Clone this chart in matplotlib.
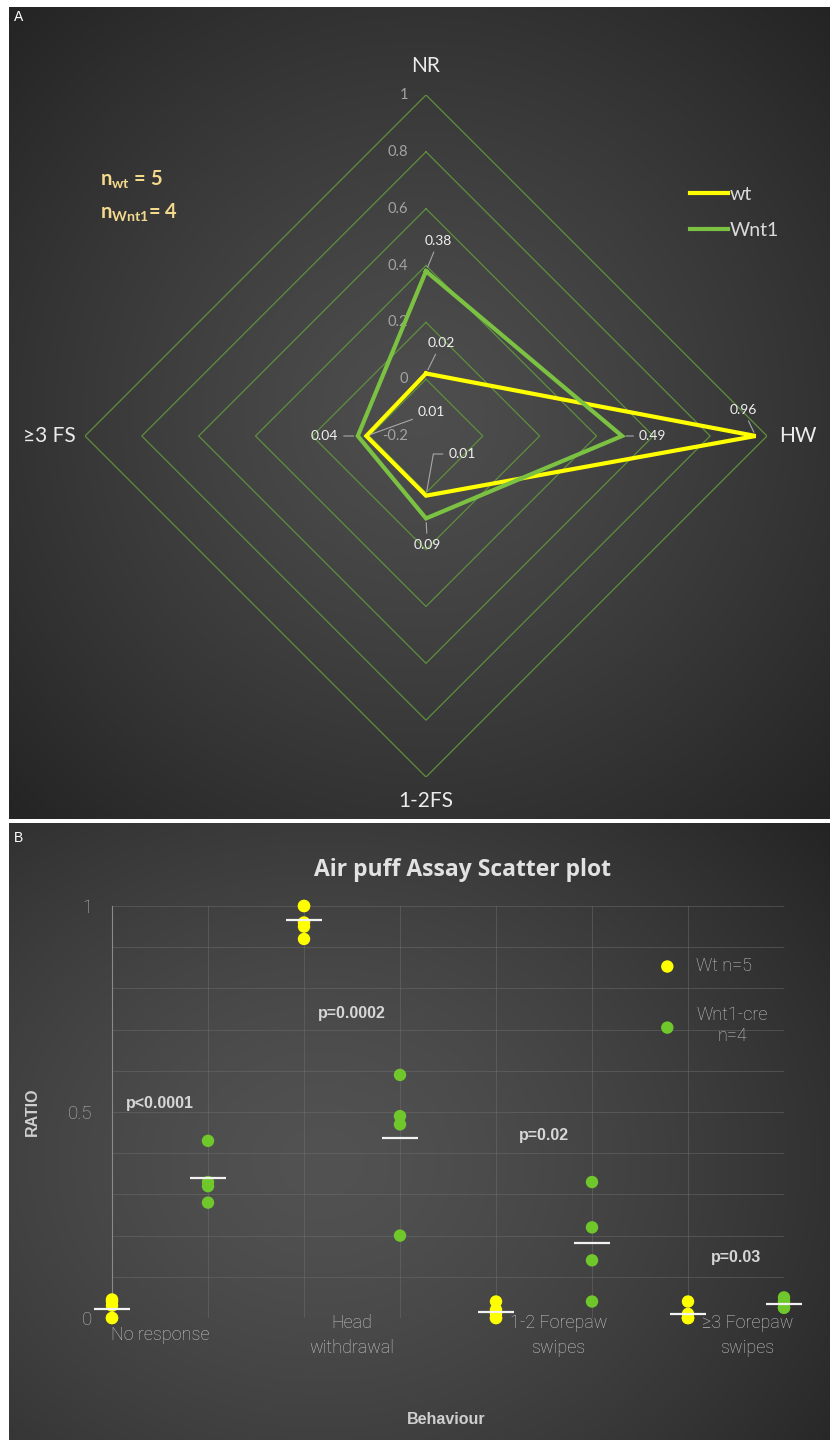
import numpy as np
import matplotlib
matplotlib.use('Agg')
import matplotlib.pyplot as plt

W, H = 831, 1441

# --- A: radar of mean response ratios ---
radar_axes = ['NR', 'HW', '1-2FS', '≥3 FS']
radar_wt = [0.02, 0.96, 0.01, 0.01]
radar_wnt1 = [0.38, 0.49, 0.09, 0.04]
ring_values = [-0.2, 0, 0.2, 0.4, 0.6, 0.8, 1.0]
ring_labels = ['-0.2', '0', '0.2', '0.4', '0.6', '0.8', '1']

# --- B: per-animal ratios ---
behaviours = ['No response', 'Head\nwithdrawal', '1-2 Forepaw\nswipes', '≥3 Forepaw\nswipes']
wt_points = [[0, 0, 0.03, 0.04, 0.045],
             [1.0, 1.0, 0.96, 0.95, 0.92],
             [0.04, 0.02, 0.01, 0, 0],
             [0.04, 0.01, 0, 0, 0]]
wnt1_points = [[0.43, 0.33, 0.32, 0.28],
               [0.59, 0.49, 0.47, 0.20],
               [0.33, 0.22, 0.14, 0.04],
               [0.05, 0.04, 0.025, 0.025]]
p_values = ['p<0.0001', 'p=0.0002', 'p=0.02', 'p=0.03']
p_heights = [0.52, 0.74, 0.442, 0.146]

YELLOW = '#ffff00'
GREEN_LINE = '#7cc242'
GREEN_DOT = '#6fc72b'

plt.rcParams['mathtext.fontset'] = 'custom'
plt.rcParams['mathtext.rm'] = 'Lato'
plt.rcParams['mathtext.bf'] = 'Lato:bold'
LATO = ['Lato', 'DejaVu Sans']
SANS = ['Liberation Sans', 'DejaVu Sans']
LIGHT = ['Roboto', 'Liberation Sans', 'DejaVu Sans']


def box(x0, y0, x1, y1):
    return [x0 / W, 1 - y1 / H, (x1 - x0) / W, (y1 - y0) / H]


def shade(ax, cx, cy, inner, outer, sx=1.0, sy=1.0, p=1.3):
    yy, xx = np.mgrid[0:1:300j, 0:1:300j]
    d = np.sqrt(((xx - cx) / sx) ** 2 + ((yy - cy) / sy) ** 2)
    d = np.clip(d / d.max(), 0, 1) ** p
    inner = np.array(inner) / 255.0
    outer = np.array(outer) / 255.0
    img = inner + (outer - inner) * d[..., None]
    ax.imshow(img, extent=[0, 1, 0, 1], origin='lower', aspect='auto',
              interpolation='bilinear')
    ax.axis('off')


fig = plt.figure(figsize=(W / 100, H / 100), dpi=100, facecolor='white')

bgA = fig.add_axes(box(9, 7, 830, 819))
shade(bgA, 0.5, 0.5, (78, 78, 78), (36, 36, 36), p=1.2)
bgB = fig.add_axes(box(9, 823, 830, 1440))
shade(bgB, 0.38, 0.45, (82, 82, 82), (36, 36, 36), sx=0.9, p=1.4)

fig.text(14 / W, 1 - 17 / H, 'A', color='white', fontsize=10, va='center', family=SANS)
fig.text(14 / W, 1 - 838 / H, 'B', color='white', fontsize=10, va='center', family=SANS)

# radar
ax = fig.add_axes(box(85, 95, 767, 777), projection='polar')
ax.patch.set_visible(False)
ax.set_theta_offset(np.pi / 2)
ax.set_theta_direction(-1)
ax.set_ylim(-0.2, 1.0)
ax.grid(False)
ax.spines['polar'].set_visible(False)
ax.set_xticks([])
ax.set_yticks([])

angles = np.arange(len(radar_axes)) * np.pi / 2
closed = np.append(angles, angles[0])
for r in ring_values[1:]:
    ax.plot(closed, [r] * len(closed), color='#5e8f3e', lw=0.9, zorder=1)
for r, lab in zip(ring_values, ring_labels):
    ax.annotate(lab, (0, r), xytext=(-13, 0), textcoords='offset points',
                ha='right', va='center', color='#a3a3a3', fontsize=10.5, family=LATO)

ax.plot(closed, radar_wt + radar_wt[:1], color=YELLOW, lw=3, zorder=4,
        solid_joinstyle='miter', label='wt')
ax.plot(closed, radar_wnt1 + radar_wnt1[:1], color=GREEN_LINE, lw=3, zorder=5,
        solid_joinstyle='miter', label='Wnt1')

label_offsets = {'wt': [(11, 22), (-9, 19), (26, 30), (47, 17)],
                 'wnt1': [(9, 22), (22, 0), (1, -19), (-24, 0)]}
for key, vals in (('wt', radar_wt), ('wnt1', radar_wnt1)):
    for i, (th, v) in enumerate(zip(angles, vals)):
        cs = 'angle,angleA=0,angleB=80,rad=0' if (key == 'wt' and i == 2) else 'arc3'
        ax.annotate(f'{v:.2f}', (th, v), xytext=label_offsets[key][i],
                    textcoords='offset points', ha='center', va='center',
                    color='#f0f0f0', fontsize=10, family=LATO, zorder=6,
                    arrowprops=dict(arrowstyle='-', color='#a8a8a8', lw=0.8,
                                    shrinkA=2, shrinkB=3, connectionstyle=cs))

axis_offsets = [(0, 21), (22, 0), (0, -17), (-26, 0)]
for th, name, off in zip(angles, radar_axes, axis_offsets):
    ax.annotate(name, (th, 1.0), xytext=off, textcoords='offset points',
                ha='center', va='center', color='#ececec', fontsize=15, family=LATO)

ax.legend(loc='upper left', bbox_to_anchor=(672 / W, 1 - 168 / H),
          bbox_transform=fig.transFigure, frameon=False, handlelength=2.0,
          handletextpad=0.05, labelspacing=1.0,
          labelcolor='#dadada', prop={'family': LATO, 'size': 14})

fig.text(100 / W, 1 - 180 / H, r'$\mathbf{n_{wt}}$ = 5', color='#f2d98c',
         fontsize=14.5, weight='bold', family=LATO, va='center')
fig.text(100 / W, 1 - 213 / H, r'$\mathbf{n_{Wnt1}}$= 4', color='#f2d98c',
         fontsize=14.5, weight='bold', family=LATO, va='center')

# scatter
axB = fig.add_axes(box(112, 906, 784, 1318))
axB.patch.set_visible(False)
axB.set_xlim(0, 7)
axB.set_ylim(0, 1)
for i in range(len(behaviours)):
    xw, xm = 2 * i, 2 * i + 1
    axB.scatter([xw] * len(wt_points[i]), wt_points[i], s=80, color=YELLOW,
                edgecolors='none', zorder=3, clip_on=False,
                label='Wt n=5' if i == 0 else None)
    axB.scatter([xm] * len(wnt1_points[i]), wnt1_points[i], s=80, color=GREEN_DOT,
                edgecolors='none', zorder=3, clip_on=False,
                label='Wnt1-cre\nn=4' if i == 0 else None)
    axB.hlines(np.mean(wt_points[i]), xw - 0.19, xw + 0.19, color='#f2f2f2',
               lw=1.6, zorder=4, clip_on=False)
    axB.hlines(np.mean(wnt1_points[i]), xm - 0.19, xm + 0.19, color='#f2f2f2',
               lw=1.6, zorder=4, clip_on=False)
    axB.text(2 * i + 0.5, p_heights[i], p_values[i], ha='center', va='center',
             color='#d6d6d6', fontsize=11.5, weight='bold', family=SANS)

axB.set_xticks(np.arange(8), minor=True)
# category names sit a little right of centre on the two right-hand groups
axB.set_xticks([0.5, 2.5, 4.65, 6.62], labels=behaviours)
axB.set_yticks([0, 0.5, 1], labels=['0', '0.5', '1'])
axB.set_yticks(np.arange(0, 1.01, 0.1), minor=True)
axB.grid(which='minor', color='#707070', lw=0.6, alpha=0.55)
axB.yaxis.grid(True, which='major', color='#707070', lw=0.6, alpha=0.55)
axB.xaxis.grid(False, which='major')
axB.tick_params(which='both', length=0)
axB.tick_params(axis='y', pad=14, labelsize=13.5, labelcolor='#b8b8b8')
axB.tick_params(axis='x', pad=12.5, labelsize=13, labelcolor='#c8c8c8')
for lbl in axB.get_yticklabels():
    lbl.set_family(LIGHT)
    lbl.set_weight('light')
for lbl in axB.get_xticklabels():
    lbl.set_family(LIGHT)
    lbl.set_weight('light')
    lbl.set_va('center')
    lbl.set_multialignment('center')
    lbl.set_linespacing(1.5)
for s in ('top', 'right', 'bottom'):
    axB.spines[s].set_visible(False)
axB.spines['left'].set_color('#8a8a8a')
axB.spines['left'].set_linewidth(0.8)

axB.set_ylabel('RATIO', color='#cfcfcf', fontsize=11.5, weight='bold', family=SANS)
axB.yaxis.set_label_coords(-0.107, 0.5)
axB.set_xlabel('Behaviour', color='#cfcfcf', fontsize=11.5, weight='bold', family=SANS)
axB.xaxis.set_label_coords(0.497, -0.227)

leg = axB.legend(loc='upper left', bbox_to_anchor=(633 / W, 1 - 941 / H),
                 bbox_transform=fig.transFigure, frameon=False, handletextpad=0.6,
                 labelspacing=1.7, prop={'family': LIGHT, 'size': 13, 'weight': 'light'},
                 labelcolor='#c8c8c8', scatterpoints=1)
leg.get_texts()[1].set_multialignment('center')

fig.text(463 / W, 1 - 870 / H, 'Air puff Assay Scatter plot', ha='center', va='center',
         color='#e2e2e2', fontsize=16.5, weight='bold', family=['Open Sans', 'DejaVu Sans'])

fig.savefig('out.png', dpi=100, facecolor='white')
